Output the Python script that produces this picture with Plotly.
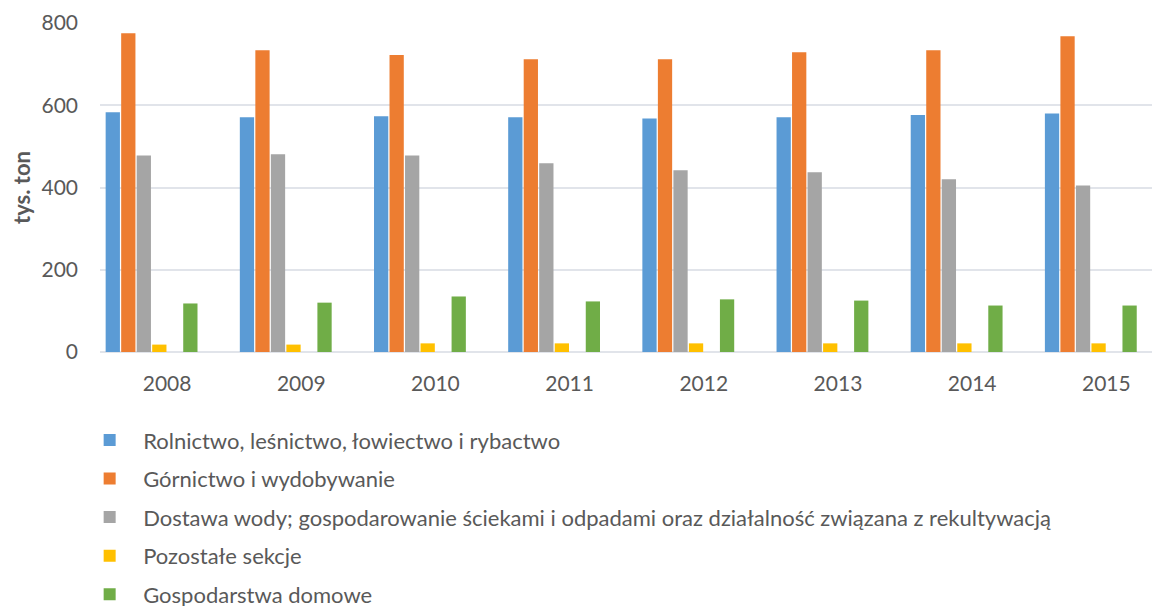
import plotly.graph_objects as go

years = ["2008", "2009", "2010", "2011", "2012", "2013", "2014", "2015"]

rolnictwo = [583, 571, 573, 571, 568, 571, 576, 580]
gornictwo = [775, 734, 722, 712, 712, 729, 734, 768]
dostawa_wody = [478, 481, 478, 459, 442, 437, 420, 405]
pozostale = [18, 18, 21, 21, 21, 21, 21, 21]
gospodarstwa = [118, 120, 135, 123, 128, 125, 113, 113]
# puste serie w oryginalnym wykresie (zajmują miejsce w grupie)
puste = [0, 0, 0, 0, 0, 0, 0, 0]

series = [
    ("Rolnictwo, leśnictwo, łowiectwo i rybactwo", rolnictwo, "#5B9BD5", True),
    ("Górnictwo i wydobywanie", gornictwo, "#ED7D31", True),
    ("Dostawa wody; gospodarowanie ściekami i odpadami oraz działalność związana z rekultywacją",
     dostawa_wody, "#A5A5A5", True),
    ("Pozostałe sekcje", pozostale, "#FFC000", True),
    ("", puste, "rgba(0,0,0,0)", False),
    ("Gospodarstwa domowe", gospodarstwa, "#70AD47", True),
    ("", puste, "rgba(0,0,0,0)", False),
    ("", puste, "rgba(0,0,0,0)", False),
]

FONT = "Lato"
GRAY = "#595959"

fig = go.Figure()
for i, (name, vals, color, show) in enumerate(series):
    fig.add_trace(go.Bar(
        x=years, y=vals, name=name,
        marker=dict(color=color, line=dict(width=0)),
        showlegend=show,
        legendgroup=f"g{i}",
        hoverinfo="skip" if not show else None,
    ))

# strona html ma margines 8 px, więc figura jest o 8 px mniejsza
fig.update_layout(
    width=1152, height=598,
    barmode="group",
    bargap=0.075,
    bargroupgap=0.08,
    plot_bgcolor="white",
    paper_bgcolor="white",
    margin=dict(l=92, r=0, t=15, b=254, autoexpand=False),
    font=dict(family=FONT, size=20, color=GRAY),
    showlegend=True,
    legend=dict(
        orientation="v",
        x=-0.0225, xanchor="left",
        y=-0.204, yanchor="top",
        font=dict(family=FONT, size=22, color=GRAY),
        tracegroupgap=7,
        itemwidth=57,
        bgcolor="rgba(0,0,0,0)",
    ),
)

fig.update_xaxes(
    type="category",
    range=[-0.5, 7.4],
    showgrid=False,
    showline=False,
    ticks="",
    automargin=False,
    ticklabelstandoff=17,
    tickfont=dict(family=FONT, size=21, color=GRAY),
)

fig.update_yaxes(
    range=[0, 800],
    tickvals=[0, 200, 400, 600, 800],
    showgrid=True,
    gridcolor="#E1E4EA",
    gridwidth=1.6,
    zeroline=True,
    zerolinecolor="#E1E4EA",
    zerolinewidth=1.6,
    showline=False,
    ticks="",
    automargin=False,
    ticklabelstandoff=21,
    tickfont=dict(family=FONT, size=21, color=GRAY),
    title=dict(text="<b>tys. ton</b>", font=dict(family=FONT, size=22, color=GRAY), standoff=16),
)

fig.write_html("out.html")
